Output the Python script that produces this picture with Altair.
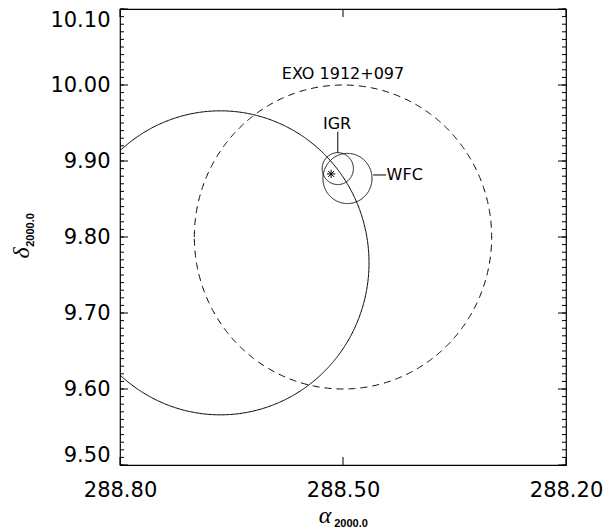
import altair as alt
import numpy as np
import pandas as pd

# ---- data ----
circle_names = ["EXO 1912+097", "Big", "IGR", "WFC"]
circle_ra = [288.500, 288.665, 288.507, 288.494]
circle_dec = [9.800, 9.766, 9.890, 9.877]
circle_r = [0.200, 0.200, 0.021, 0.033]
circle_style = ["dashed", "solid", "solid", "solid"]

source_ra = [288.516]
source_dec = [9.883]

label_text = ["EXO 1912+097", "IGR", "WFC"]
label_ra = [288.500, 288.508, 288.417]
label_dec = [10.0145, 9.9487, 9.8816]

leader_ra = [288.507, 288.4595]
leader_ra2 = [288.507, 288.442]
leader_dec = [9.9386, 9.8816]
leader_dec2 = [9.9105, 9.8816]

x_ticks = [288.80, 288.50, 288.20]
y_ticks = [9.50, 9.60, 9.70, 9.80, 9.90, 10.00, 10.10]
y_minor = [round(9.50 + 0.01 * i, 2) for i in range(61)]

W, H = 446, 456
FONT = "DejaVu Sans"

# ---- build circle outlines from centre and radius ----
rows = []
theta = np.linspace(0, 2 * np.pi, 721)
for n, ra, de, r, st in zip(circle_names, circle_ra, circle_dec, circle_r, circle_style):
    for i, t in enumerate(theta):
        rows.append({"name": n, "i": i, "style": st,
                     "ra": ra + r * np.cos(t), "dec": de + r * np.sin(t)})
circ = pd.DataFrame(rows)

xs = alt.Scale(domain=[288.20, 288.80], reverse=True, nice=False, zero=False)
ys = alt.Scale(domain=[9.50, 10.10], nice=False, zero=False)

xaxis = alt.Axis(values=x_ticks, format=".2f", title=None, labelPadding=14,
                 labelFlush=False)
yaxis = alt.Axis(values=y_ticks, format=".2f", title=None, labelPadding=10,
                 labelFlush=True)

solid = alt.Chart(circ[circ["style"] == "solid"]).mark_line(
    clip=True, color="black", strokeWidth=1
).encode(
    x=alt.X("ra:Q", scale=xs, axis=xaxis),
    y=alt.Y("dec:Q", scale=ys, axis=yaxis),
    detail="name:N",
    order="i:Q",
)

dashed = alt.Chart(circ[circ["style"] == "dashed"]).mark_line(
    clip=True, color="black", strokeWidth=1, strokeDash=[7, 5]
).encode(
    x=alt.X("ra:Q", scale=xs),
    y=alt.Y("dec:Q", scale=ys),
    detail="name:N",
    order="i:Q",
)

star = alt.Chart(pd.DataFrame({"ra": source_ra, "dec": source_dec})).mark_point(
    shape="M-1,0L1,0M0,-1L0,1M-0.7,-0.7L0.7,0.7M-0.7,0.7L0.7,-0.7",
    size=70, filled=False, color="black", strokeWidth=1, opacity=1
).encode(x=alt.X("ra:Q", scale=xs), y=alt.Y("dec:Q", scale=ys))

labels = alt.Chart(pd.DataFrame({"t": label_text, "ra": label_ra, "dec": label_dec})).mark_text(
    font=FONT, fontSize=16, color="black", align="center", baseline="middle"
).encode(x=alt.X("ra:Q", scale=xs), y=alt.Y("dec:Q", scale=ys), text="t:N")

leaders = alt.Chart(pd.DataFrame({"ra": leader_ra, "ra2": leader_ra2,
                                  "dec": leader_dec, "dec2": leader_dec2})).mark_rule(
    color="black", strokeWidth=1
).encode(x=alt.X("ra:Q", scale=xs), x2="ra2:Q",
         y=alt.Y("dec:Q", scale=ys), y2="dec2:Q")

# ---- inward axis ticks ----
ymaj = pd.DataFrame({"v": y_ticks})
ymin = pd.DataFrame({"v": y_minor})
xmaj = pd.DataFrame({"v": x_ticks})


def ytick(df, xc, size):
    return alt.Chart(df).mark_tick(
        color="black", thickness=1, size=size, orient="horizontal", opacity=1
    ).encode(y=alt.Y("v:Q", scale=ys), x=alt.value(xc))


def xtick(df, yc, size):
    return alt.Chart(df).mark_tick(
        color="black", thickness=1, size=size, orient="vertical", opacity=1
    ).encode(x=alt.X("v:Q", scale=xs), y=alt.value(yc))


tick_layers = [
    ytick(ymaj, 4, 8), ytick(ymaj, W - 4, 8),
    ytick(ymin, 2, 4), ytick(ymin, W - 2, 4),
    xtick(xmaj, H - 4, 8), xtick(xmaj, 4, 8),
]

# ---- axis titles with subscripts ----
tdf = pd.DataFrame({"a": [0]})
x_title = alt.Chart(tdf).mark_text(
    text="α", font="Liberation Serif", fontStyle="italic", fontSize=24,
    color="black", align="center", baseline="middle"
).encode(x=alt.value(205), y=alt.value(507))
x_sub = alt.Chart(tdf).mark_text(
    text="2000.0", font="Liberation Sans", fontWeight="bold", fontSize=11,
    color="black", align="center", baseline="middle"
).encode(x=alt.value(231), y=alt.value(515))
y_title = alt.Chart(tdf).mark_text(
    text="δ", font="Liberation Serif", fontStyle="italic", fontSize=24, angle=270,
    color="black", align="center", baseline="middle"
).encode(x=alt.value(-98), y=alt.value(244))
y_sub = alt.Chart(tdf).mark_text(
    text="2000.0", font="Liberation Sans", fontWeight="bold", fontSize=11, angle=270,
    color="black", align="center", baseline="middle"
).encode(x=alt.value(-89), y=alt.value(221))

chart = alt.layer(
    solid, dashed, star, labels, leaders, *tick_layers,
    x_title, x_sub, y_title, y_sub
).properties(
    width=W, height=H,
    autosize=alt.AutoSizeParams(type="none"),
    padding={"left": 120, "top": 9, "right": 40, "bottom": 66},
    background="white",
).configure_view(
    stroke="black", strokeWidth=1.2
).configure_axis(
    labelFont=FONT, labelFontSize=21, labelColor="black",
    domain=False, ticks=False, grid=False,
)

chart.save("out.html", embed_options={"renderer": "svg", "actions": False})
